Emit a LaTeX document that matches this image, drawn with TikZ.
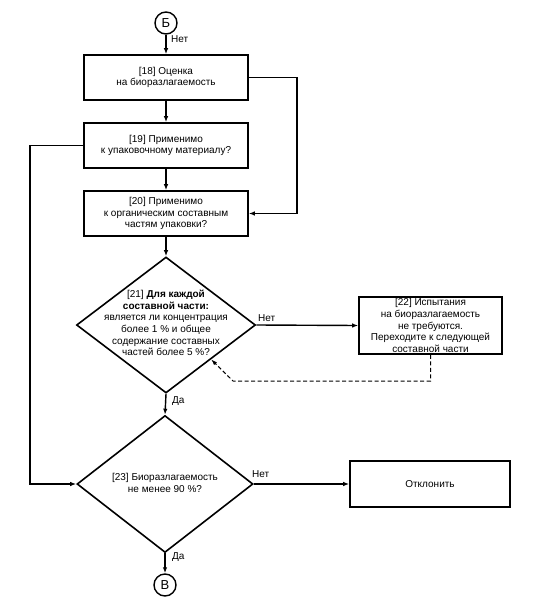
\documentclass[tikz,border=0pt]{standalone}
\usepackage{fontspec}
\setmainfont{Liberation Sans}
\usetikzlibrary{shapes.geometric,arrows.meta}
\begin{document}
\begin{tikzpicture}[x=1pt,y=-1pt,
  every node/.style={font=\fontsize{10}{11.6}\selectfont},
  box/.style={draw,line width=1.6pt,rectangle,minimum width=164pt,minimum height=45pt,inner sep=0pt,align=center},
  dia/.style={draw,line width=1.6pt,diamond,inner sep=0pt},
  conn/.style={draw,circle,line width=1.4pt,minimum size=22pt,inner sep=0pt,font=\fontsize{13}{13}\selectfont},
  arr/.style={line width=1.4pt,-{Latex[length=6pt,width=4.5pt]}},
  darr/.style={line width=1pt,dash pattern=on 4pt off 2.5pt,-{Latex[length=6pt,width=4pt]}},
  lbl/.style={inner sep=0pt,anchor=west}]
\useasboundingbox (0,0) rectangle (536,604);
\node[conn] (B) at (166,23) {Б};
\node[box] (b18) at (166,77.5) {[18] Оценка\\на биоразлагаемость};
\node[box] (b19) at (166,145.5) {[19] Применимо\\к упаковочному материалу?};
\node[box] (b20) at (166,213.5) {[20] Применимо\\к органическим составным\\частям упаковки?};
\node[dia,minimum width=179pt,minimum height=136pt] (d21) at (166,325) {};
\node[align=center] (d21t) at (166,323) {[21] \textbf{Для каждой}\\\textbf{составной части:}\\является ли концентрация\\более 1 \% и общее\\содержание составных\\частей более 5 \%?};
\node[box,minimum width=143pt,minimum height=57pt] (b22) at (430.5,325.5) {[22] Испытания\\на биоразлагаемость\\не требуются.\\Переходите к следующей\\составной части};
\node[dia,minimum width=176pt,minimum height=137pt] (d23) at (165,484) {};
\node[align=center] (d23t) at (165,483) {[23] Биоразлагаемость\\не менее 90 \%?};
\node[box,minimum width=160pt,minimum height=46pt] (rej) at (430,484) {Отклонить};
\node[conn] (V) at (165,585) {В};
\coordinate (r1) at (297,213.5);
\coordinate (l1) at (30,145.5);
\coordinate (d1) at (430.5,381);
\coordinate (d2) at (233,381);
\draw[arr] (B) -- (b18);
\draw[arr] (b18) -- (b19);
\draw[arr] (b19) -- (b20);
\draw[arr] (b20) -- (d21.north);
\draw[arr] (d21.south) -- (d23.north);
\draw[arr] (d23.south) -- (V);
\draw[arr] (b18.east) -| (r1) -- (b20.east);
\draw[arr] (b19.west) -- (l1) |- (d23.west);
\draw[arr] (d21.east) -- (b22.west);
\draw[arr] (d23.east) -- (rej.west);
\draw[darr] (b22.south) -- (d1) -- (d2) -- (d21.south east);
\node[lbl] (n1) at (171,39) {Нет};
\node[lbl] (n2) at (258,318) {Нет};
\node[lbl] (n3) at (172,401) {Да};
\node[lbl] (n4) at (252,474) {Нет};
\node[lbl] (n5) at (172,557) {Да};
\end{tikzpicture}
\end{document}
